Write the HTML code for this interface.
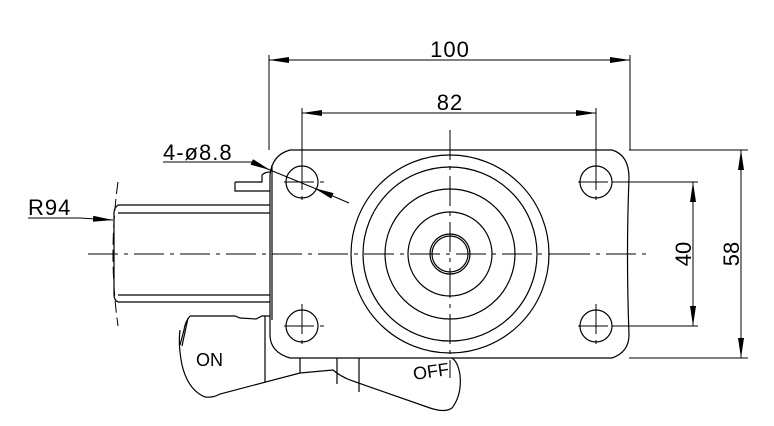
<!DOCTYPE html>
<html><head><style>html,body{margin:0;padding:0;background:#fff}svg{display:block}</style></head>
<body>
<svg width="774" height="426" viewBox="0 0 774 426" xmlns="http://www.w3.org/2000/svg" font-family="Liberation Sans, sans-serif">
<defs>
<marker id="a" viewBox="0 0 20 6" refX="20" refY="3" markerWidth="20" markerHeight="6" markerUnits="userSpaceOnUse" orient="auto-start-reverse"><path d="M0,0 L20,3 L0,6 Z" fill="#000"/></marker>
</defs>
<g fill="none" stroke="#000" stroke-width="1.2">
<path d="M290,150 L612,150 Q629,155 629,178 Q626,254 629,335 Q629,352 612,358 L290,358 Q270,352 270,335 L270,175 Q272,155 290,150 Z"/>
<circle cx="302" cy="182" r="16"/><circle cx="596" cy="182" r="16"/>
<circle cx="302" cy="326" r="16"/><circle cx="596" cy="326" r="16"/>
<circle cx="450" cy="254" r="99"/>
<circle cx="450" cy="254" r="87"/>
<circle cx="450" cy="254" r="65"/>
<circle cx="450" cy="254" r="42"/>
<circle cx="450" cy="254" r="20"/>
<circle cx="450" cy="254" r="18"/>
<path d="M118,205 L270,205 M118,213 L270,213 M118,302 L270,302 M118,295 L270,295"/>
<path d="M118,205 Q114,208 114,213 L114,295 Q114,300 118,302"/>
<path d="M235,182 L262,182 L262,175 Q265,172 270,172 M235,182 L235,191 L270,191"/>
<path d="M272,165 L272,320" />
<path d="M190,316 L235,316 L240,318 L256,319 L262,316 L270,316 M180,330 Q178,345 182,365 Q188,390 205,397 Q213,398 220,394 L300,373 L333,370 Q340,376 350,380 L430,408 Q445,413 452,408 Q462,395 460,375 Q458,362 452,358"/>
<path d="M190,316 Q185,322 184,330 L180,345"/>
<path d="M265,316 L265,382 M300,358 L300,373 M337,358 L337,384 M359,358 L359,392"/>
<path d="M188,318 L182,346"/>
</g>
<g fill="none" stroke="#000" stroke-width="1" stroke-dasharray="30,6,4,6">
<path d="M88,254 L560,254"/>
<path d="M560,254 L648,254"/>
<path d="M450,130 L450,378"/>
<path d="M284,182 L325,182 M302,160 L302,204 M578,182 L620,182 M596,160 L596,204 M284,326 L325,326 M302,304 L302,348 M578,326 L620,326 M596,304 L596,348"/>
</g>
<path d="M118,182 Q108,254 118,326" fill="none" stroke="#000" stroke-width="1" stroke-dasharray="12,5"/>
<g fill="none" stroke="#000" stroke-width="1">
<path d="M269,55 L269,150 M630,55 L630,150 M302,108 L302,160 M596,108 L596,160"/>
<path d="M269,60 L630,60" marker-start="url(#a)" marker-end="url(#a)"/>
<path d="M302,113 L596,113" marker-start="url(#a)" marker-end="url(#a)"/>
<path d="M629,150 L748,150 M629,358 L748,358 M612,182 L698,182 M612,326 L698,326"/>
<path d="M741,150 L741,358" marker-start="url(#a)" marker-end="url(#a)"/>
<path d="M693,182 L693,326" marker-start="url(#a)" marker-end="url(#a)"/>
<path d="M163,162 L252,162 L270,170" marker-end="url(#a)"/>
<path d="M349,203 L314,188" marker-end="url(#a)"/>
<path d="M270,170 L314,188"/>
<path d="M28,218 L80,218 L113,220" marker-end="url(#a)"/>
</g>
<g font-size="22" fill="#000">
<text x="450" y="57" text-anchor="middle" letter-spacing="1">100</text>
<text x="450" y="110" text-anchor="middle" letter-spacing="1">82</text>
<text x="163" y="160" letter-spacing="1">4-ø8.8</text>
<text x="28" y="215" letter-spacing="1">R94</text>
<text transform="translate(691,254) rotate(-90)" text-anchor="middle">40</text>
<text transform="translate(739,254) rotate(-90)" text-anchor="middle">58</text>
<text x="196" y="366" font-size="18">ON</text>
<text transform="translate(414,380) rotate(-8)" font-size="18">OFF</text>
</g>
</svg>
</body></html>
